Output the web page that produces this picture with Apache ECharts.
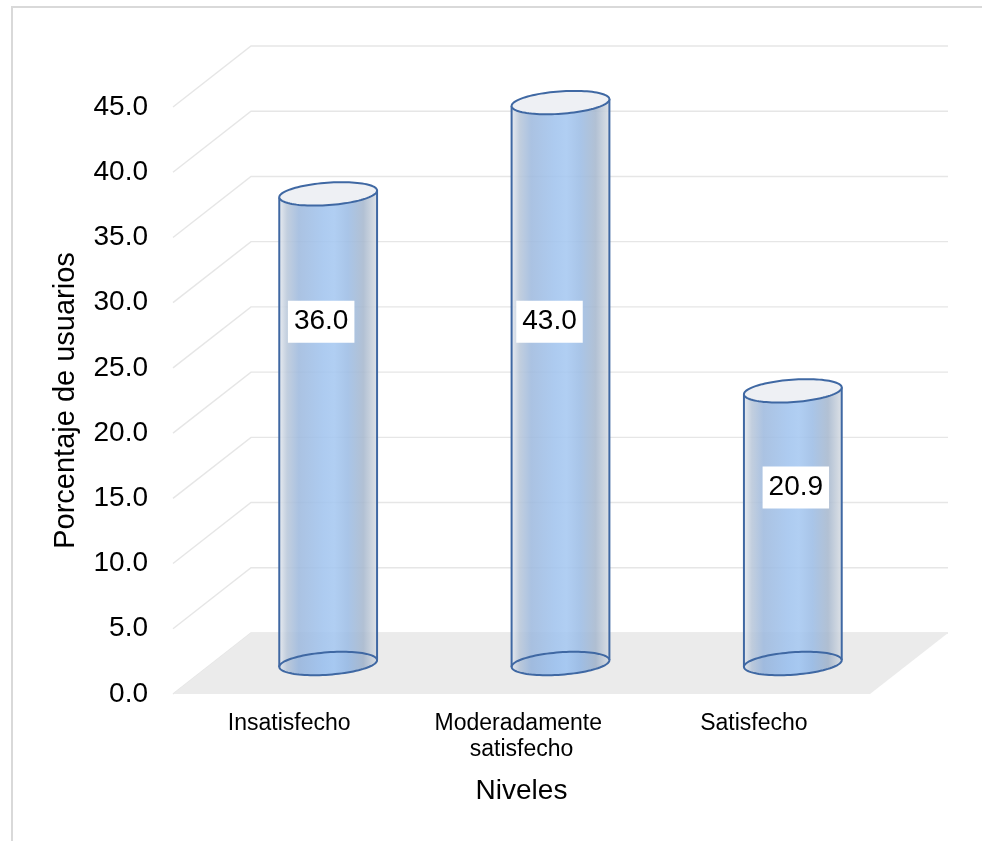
<!DOCTYPE html>
<html>
<head>
<meta charset="utf-8">
<title>Niveles de satisfacción</title>
<script src="https://cdn.jsdelivr.net/npm/echarts@6/dist/echarts.min.js"></script>
<style>
  html, body { margin: 0; padding: 0; background: #fff; }
  #chart { width: 982px; height: 841px; }
</style>
</head>
<body>
<div id="chart"></div>
<script>
// Satisfaction levels (percentage of users)
const categories = ['Insatisfecho', 'Moderadamente satisfecho', 'Satisfecho'];
const values = [36.0, 43.0, 20.9];
const yTicks = [0, 5, 10, 15, 20, 25, 30, 35, 40, 45];

// Depth of the pseudo-3D box (screen offset from front plane to back wall)
const DX = 78;
const DY = -61;
const TILT = -0.072;          // ellipse tilt, radians
const FONT = '"Liberation Sans", Arial, sans-serif';

// Where each value label sits (value level on the front plane, x shift in px)
const labelLevel = [26.2, 26.2, 13.5];
const labelShift = [-7, -11, 3];

function ellipsePts(cx, cy, rx, ry, a0, a1, n) {
  const pts = [];
  const ct = Math.cos(TILT), st = Math.sin(TILT);
  for (let i = 0; i <= n; i++) {
    const t = a0 + (a1 - a0) * i / n;
    const ex = rx * Math.cos(t), ey = ry * Math.sin(t);
    pts.push([cx + ex * ct - ey * st, cy + ex * st + ey * ct]);
  }
  return pts;
}

function bodyGradient() {
  return new echarts.graphic.LinearGradient(0, 0, 1, 0, [
    { offset: 0.00, color: '#e4e8ee' },
    { offset: 0.08, color: '#bac8da' },
    { offset: 0.20, color: '#9fbade' },
    { offset: 0.45, color: '#a2c4ee' },
    { offset: 0.56, color: '#a6c8f1' },
    { offset: 0.70, color: '#9dbde5' },
    { offset: 0.86, color: '#a7b8ce' },
    { offset: 1.00, color: '#d8dde3' }
  ]);
}

function renderGridLine(params, api) {
  const cs = params.coordSys;
  const y = api.coord([0, api.value(1)])[1];
  return {
    type: 'polyline',
    shape: { points: [[cs.x, y], [cs.x + DX, y + DY], [cs.x + cs.width + DX, y + DY]] },
    style: { stroke: '#e6e6e6', lineWidth: 1.4, fill: null }
  };
}

function renderFloor(params, api) {
  const cs = params.coordSys;
  const y = api.coord([0, api.value(1)])[1];
  const x0 = cs.x, x1 = cs.x + cs.width;
  return {
    type: 'polygon',
    shape: { points: [[x0, y], [x1, y], [x1 + DX, y + DY], [x0 + DX, y + DY]] },
    style: { fill: '#ebebeb', stroke: null }
  };
}

function renderCylinder(params, api) {
  const idx = api.value(0);
  const v = api.value(1);
  const base = api.coord([idx, 0]);
  const top = api.coord([idx, v]);
  const band = api.size([1, 0])[0];
  const cx = base[0] + DX / 2;
  const by = base[1] + DY / 2;
  const ty = top[1] + DY / 2;
  const rx = band * 0.211;
  const ry = 11.2;
  const outline = '#3f68a3';

  const silhouette = ellipsePts(cx, by, rx, ry, Math.PI, 0, 48)
    .concat(ellipsePts(cx, ty, rx, ry, 0, -Math.PI, 48));
  const bl = ellipsePts(cx, by, rx, ry, Math.PI, Math.PI, 1)[0];
  const br = ellipsePts(cx, by, rx, ry, 0, 0, 1)[0];
  const tl = ellipsePts(cx, ty, rx, ry, Math.PI, Math.PI, 1)[0];
  const tr = ellipsePts(cx, ty, rx, ry, 0, 0, 1)[0];

  const lv = api.coord([idx, labelLevel[params.dataIndex]])[1] + DY / 2;

  return {
    type: 'group',
    children: [
      { type: 'polygon', shape: { points: ellipsePts(cx, by, rx, ry, 0, 2 * Math.PI, 96) },
        style: { fill: bodyGradient(), opacity: 0.9 } },
      { type: 'polygon', shape: { points: silhouette },
        style: { fill: bodyGradient(), opacity: 0.88 } },
      { type: 'polygon', shape: { points: ellipsePts(cx, by, rx, ry, 0, 2 * Math.PI, 96) },
        style: { fill: null, stroke: outline, lineWidth: 2 } },
      { type: 'polyline', shape: { points: [bl, tl] }, style: { stroke: outline, lineWidth: 2, fill: null } },
      { type: 'polyline', shape: { points: [br, tr] }, style: { stroke: outline, lineWidth: 2, fill: null } },
      { type: 'polygon', shape: { points: ellipsePts(cx, ty, rx, ry, 0, 2 * Math.PI, 96) },
        style: { fill: '#eef0f4', stroke: outline, lineWidth: 2 } },
      { type: 'text', z2: 10, x: cx + labelShift[params.dataIndex], y: lv,
        style: {
          text: v.toFixed(1), fill: '#000', font: '28px ' + FONT,
          align: 'center', verticalAlign: 'middle',
          backgroundColor: '#fff', padding: [7, 6]
        } }
    ]
  };
}

const chart = echarts.init(document.getElementById('chart'), null, { renderer: 'canvas' });

chart.setOption({
  animation: false,
  backgroundColor: '#fff',
  graphic: [{
    type: 'rect', silent: true, z: -10,
    shape: { x: 12, y: 7, width: 1000, height: 900 },
    style: { fill: null, stroke: '#d9d9d9', lineWidth: 2 }
  }],
  grid: { left: 173, right: 112, top: 107, bottom: 147, containLabel: false },
  xAxis: {
    type: 'category',
    data: categories,
    axisLine: { show: false },
    axisTick: { show: false },
    splitLine: { show: false },
    axisLabel: {
      color: '#000', fontFamily: FONT, fontSize: 23, lineHeight: 26,
      margin: 17, width: 200, overflow: 'break', interval: 0
    },
    name: 'Niveles',
    nameLocation: 'middle',
    nameGap: 83,
    nameTextStyle: { color: '#000', fontFamily: FONT, fontSize: 28 }
  },
  yAxis: {
    type: 'value',
    min: 0, max: 45, interval: 5,
    axisLine: { show: false },
    axisTick: { show: false },
    splitLine: { show: false },
    axisLabel: {
      color: '#000', fontFamily: FONT, fontSize: 28, margin: 25,
      formatter: (v) => v.toFixed(1)
    },
    name: 'Porcentaje de usuarios',
    nameLocation: 'middle',
    nameGap: 93,
    nameTextStyle: { color: '#000', fontFamily: FONT, fontSize: 29 }
  },
  series: [
    {
      type: 'custom', silent: true, z: 1,
      renderItem: renderGridLine,
      encode: { x: 0, y: 1 },
      data: yTicks.map((t) => [0, t])
    },
    {
      type: 'custom', silent: true, z: 2,
      renderItem: renderFloor,
      encode: { x: 0, y: 1 },
      data: [[0, 0]]
    },
    {
      type: 'custom', silent: true, z: 3,
      renderItem: renderCylinder,
      encode: { x: 0, y: 1 },
      data: values.map((v, i) => [i, v])
    }
  ]
});
</script>
</body>
</html>
